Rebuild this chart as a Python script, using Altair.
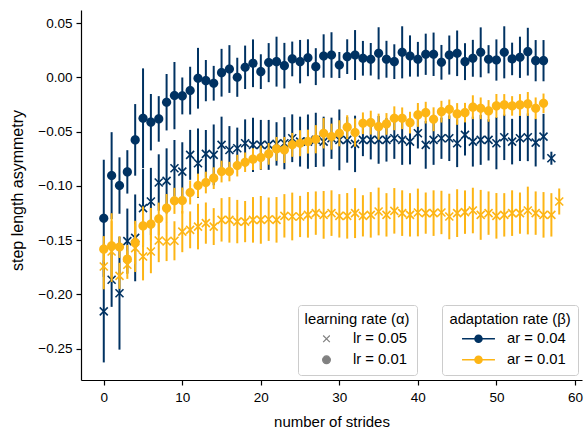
import altair as alt
import pandas as pd

NAVY = "#003262"
GOLD = "#FDB515"
FONT = "Liberation Sans"

# ---- data ----
# adaptation rate 0.04, learning rate 0.05  (navy crosses)
a04_l05_mean = [-0.2158, -0.1866, -0.1990, -0.1510, -0.1480, -0.1206, -0.1145, -0.0970, -0.0955, -0.0838,
                -0.0869, -0.0715, -0.0792, -0.0706, -0.0715, -0.0623, -0.0670, -0.0654, -0.0608, -0.0623,
                -0.0623, -0.0623, -0.0614, -0.0608, -0.0562, -0.0593, -0.0593, -0.0577, -0.0593, -0.0562,
                -0.0577, -0.0577, -0.0614, -0.0577, -0.0577, -0.0577, -0.0577, -0.0562, -0.0577, -0.0593,
                -0.0516, -0.0623, -0.0577, -0.0562, -0.0562, -0.0608, -0.0531, -0.0593, -0.0577, -0.0577,
                -0.0608, -0.0553, -0.0593, -0.0562, -0.0553, -0.0602, -0.0547, -0.0746]
a04_l05_err = [0.047, 0.025, 0.052, 0.030, 0.040, 0.036, 0.031, 0.026, 0.030, 0.026,
               0.027, 0.023, 0.032, 0.022, 0.028, 0.026, 0.022, 0.019, 0.022, 0.025,
               0.023, 0.023, 0.020, 0.024, 0.022, 0.023, 0.025, 0.025, 0.023, 0.019,
               0.028, 0.021, 0.026, 0.015, 0.018, 0.022, 0.020, 0.019, 0.023, 0.021,
               0.014, 0.022, 0.023, 0.019, 0.021, 0.022, 0.019, 0.023, 0.023, 0.019,
               0.024, 0.021, 0.021, 0.021, 0.022, 0.022, 0.021, 0.006]

# adaptation rate 0.04, learning rate 0.01  (navy circles)
a04_l01_mean = [-0.1300, -0.0906, -0.0998, -0.0872, -0.0577, -0.0378, -0.0414, -0.0384, -0.0230, -0.0169,
                -0.0172, -0.0123, -0.0009, -0.0031, -0.0055, 0.0042, 0.0076, 0.0000, 0.0092, 0.0129,
                0.0052, 0.0135, 0.0144, 0.0107, 0.0169, 0.0144, 0.0180, 0.0098, 0.0196, 0.0205,
                0.0113, 0.0190, 0.0205, 0.0175, 0.0166, 0.0221, 0.0166, 0.0144, 0.0230, 0.0196,
                0.0166, 0.0212, 0.0212, 0.0138, 0.0205, 0.0221, 0.0144, 0.0175, 0.0230, 0.0166,
                0.0159, 0.0230, 0.0169, 0.0184, 0.0236, 0.0153, 0.0153]
a04_l01_err = [0.054, 0.040, 0.026, 0.020, 0.033, 0.046, 0.026, 0.021, 0.026, 0.031,
               0.017, 0.022, 0.028, 0.019, 0.016, 0.022, 0.022, 0.018, 0.020, 0.022,
               0.016, 0.018, 0.023, 0.021, 0.016, 0.020, 0.017, 0.017, 0.020, 0.021,
               0.012, 0.016, 0.023, 0.016, 0.015, 0.024, 0.017, 0.016, 0.024, 0.019,
               0.016, 0.019, 0.020, 0.016, 0.018, 0.021, 0.017, 0.017, 0.023, 0.013,
               0.019, 0.024, 0.015, 0.019, 0.022, 0.019, 0.019]

# adaptation rate 0.01, learning rate 0.05  (gold crosses)
a01_l05_mean = [-0.1744, -0.1606, -0.1830, -0.1728, -0.1575, -0.1652, -0.1606, -0.1504, -0.1514, -0.1507,
                -0.1422, -0.1406, -0.1376, -0.1344, -0.1376, -0.1314, -0.1314, -0.1330, -0.1330, -0.1314,
                -0.1314, -0.1308, -0.1314, -0.1277, -0.1283, -0.1283, -0.1268, -0.1252, -0.1268, -0.1252,
                -0.1277, -0.1277, -0.1252, -0.1277, -0.1268, -0.1237, -0.1268, -0.1231, -0.1252, -0.1268,
                -0.1246, -0.1252, -0.1252, -0.1246, -0.1283, -0.1252, -0.1243, -0.1228, -0.1268, -0.1252,
                -0.1277, -0.1268, -0.1252, -0.1252, -0.1228, -0.1252, -0.1268, -0.1268, -0.1145]
a01_l05_err = [0.021, 0.028, 0.012, 0.013, 0.022, 0.022, 0.020, 0.020, 0.018, 0.018,
               0.019, 0.017, 0.021, 0.019, 0.017, 0.020, 0.021, 0.020, 0.019, 0.021,
               0.022, 0.020, 0.021, 0.020, 0.022, 0.019, 0.021, 0.020, 0.022, 0.021,
               0.020, 0.021, 0.023, 0.019, 0.021, 0.022, 0.020, 0.021, 0.021, 0.020,
               0.022, 0.019, 0.021, 0.020, 0.021, 0.022, 0.020, 0.021, 0.023, 0.020,
               0.021, 0.020, 0.021, 0.019, 0.022, 0.020, 0.021, 0.020, 0.012]

# adaptation rate 0.01, learning rate 0.01  (gold circles)
a01_l01_mean = [-0.1584, -0.1553, -0.1565, -0.1676, -0.1523, -0.1370, -0.1354, -0.1305, -0.1206, -0.1139,
                -0.1136, -0.1062, -0.0998, -0.0970, -0.0930, -0.0869, -0.0869, -0.0814, -0.0783, -0.0755,
                -0.0740, -0.0706, -0.0660, -0.0670, -0.0623, -0.0608, -0.0593, -0.0571, -0.0516, -0.0547,
                -0.0516, -0.0460, -0.0510, -0.0424, -0.0418, -0.0455, -0.0430, -0.0378, -0.0378, -0.0418,
                -0.0347, -0.0326, -0.0387, -0.0317, -0.0295, -0.0338, -0.0326, -0.0276, -0.0286, -0.0310,
                -0.0264, -0.0255, -0.0264, -0.0255, -0.0246, -0.0286, -0.0240]
a01_l01_err = [0.012, 0.030, 0.010, 0.013, 0.020, 0.018, 0.015, 0.015, 0.013, 0.012,
               0.012, 0.011, 0.011, 0.010, 0.010, 0.010, 0.009, 0.010, 0.009, 0.010,
               0.011, 0.010, 0.011, 0.012, 0.011, 0.012, 0.011, 0.013, 0.014, 0.012,
               0.012, 0.011, 0.013, 0.010, 0.011, 0.012, 0.010, 0.011, 0.010, 0.010,
               0.011, 0.010, 0.011, 0.010, 0.009, 0.010, 0.009, 0.011, 0.010, 0.010,
               0.011, 0.010, 0.009, 0.010, 0.011, 0.010, 0.009]

ar_labels = ["ar = 0.04", "ar = 0.01"]
lr_labels = ["lr = 0.05", "lr = 0.01"]
x_ticks = [0, 10, 20, 30, 40, 50, 60]
y_ticks = [-0.25, -0.20, -0.15, -0.10, -0.05, 0.00, 0.05]
colors = {"ar = 0.04": NAVY, "ar = 0.01": GOLD}

# drawing order: navy first, then gold
series = [
    ("ar = 0.04", "lr = 0.05", a04_l05_mean, a04_l05_err),
    ("ar = 0.04", "lr = 0.01", a04_l01_mean, a04_l01_err),
    ("ar = 0.01", "lr = 0.05", a01_l05_mean, a01_l05_err),
    ("ar = 0.01", "lr = 0.01", a01_l01_mean, a01_l01_err),
]

# symbol paths (unit square [-1, 1] maps to sqrt(size) pixels)
CROSS = "M-0.18,-0.18L0.18,0.18M-0.18,0.18L0.18,-0.18"
CIRCLE = "M0.21,0A0.21,0.21,0,1,1,-0.21,0A0.21,0.21,0,1,1,0.21,0Z"
LINE_DOT = ("M-0.7,-0.032L0.7,-0.032L0.7,0.032L-0.7,0.032Z"
            "M0.183,0A0.183,0.183,0,1,1,-0.183,0A0.183,0.183,0,1,1,0.183,0Z")

x_scale = alt.Scale(domain=[-2.9, 60.9], nice=False, zero=False)
y_scale = alt.Scale(domain=[-0.279, 0.062], nice=False, zero=False)

x_axis = alt.Axis(title="number of strides", values=x_ticks, format="d",
                  labelPadding=5.5, titleY=46, titleBaseline="alphabetic",
                  titleFontSize=15)
y_axis = alt.Axis(title="step length asymmetry", values=y_ticks, format=".2f",
                  labelPadding=4, titleX=-64, titleY=180, titleAngle=-90,
                  titleAlign="center", titleBaseline="middle", titleFontSize=16)

fill_legend = alt.Legend(
    title="adaptation rate (β)", orient="none", legendX=361, legendY=295,
    direction="vertical", padding=7, strokeColor="#cccccc", fillColor="white",
    cornerRadius=3, titleAnchor="middle", symbolType=LINE_DOT, symbolSize=2209,
    symbolStrokeWidth=0, clipHeight=16, rowPadding=5, labelOffset=5, titlePadding=4,
)
shape_legend = alt.Legend(
    title="learning rate (α)", orient="none", legendX=217, legendY=295,
    direction="vertical", padding=7, strokeColor="#cccccc", fillColor="white",
    cornerRadius=3, titleAnchor="middle", symbolSize=1369,
    symbolFillColor="#808080", symbolStrokeColor="#808080", symbolStrokeWidth=1.2,
    clipHeight=16, rowPadding=5, labelOffset=7, titlePadding=4,
)

fill_scale = alt.Scale(domain=ar_labels, range=[NAVY, GOLD])
shape_scale = alt.Scale(domain=lr_labels, range=[CROSS, CIRCLE])

layers = []
for ar, lr, mean, err in series:
    col = colors[ar]
    df = pd.DataFrame({
        "stride": list(range(len(mean))),
        "mean": mean,
        "lo": [m - e for m, e in zip(mean, err)],
        "hi": [m + e for m, e in zip(mean, err)],
        "ar": ar,
        "lr": lr,
    })
    rules = alt.Chart(df).mark_rule(strokeWidth=2, color=col).encode(
        x=alt.X("stride:Q", scale=x_scale, axis=x_axis),
        y=alt.Y("lo:Q", scale=y_scale, axis=y_axis),
        y2="hi:Q",
    )
    is_cross = lr == "lr = 0.05"
    pts = alt.Chart(df).mark_point(
        opacity=1,
        stroke=col,
        size=1975 if is_cross else 1920,
        strokeWidth=1.6 if is_cross else 0,
    ).encode(
        x=alt.X("stride:Q", scale=x_scale, axis=x_axis),
        y=alt.Y("mean:Q", scale=y_scale, axis=y_axis),
        fill=alt.Fill("ar:N", scale=fill_scale, legend=fill_legend),
        shape=alt.Shape("lr:N", scale=shape_scale, legend=shape_legend),
    )
    layers += [rules, pts]

chart = alt.layer(*layers).properties(
    width=501, height=370,
    autosize=alt.AutoSizeParams(type="none"),
    padding={"left": 81, "top": 10, "right": 2, "bottom": 48},
).configure(
    font=FONT, background="white"
).configure_view(
    stroke=None
).configure_axis(
    grid=False, domainColor="black", domainWidth=1.2, tickColor="black", tickWidth=1.2,
    tickSize=5, labelFont=FONT, labelFontSize=13.5, labelColor="black",
    titleFont=FONT, titleFontSize=15, titleFontWeight="normal", titleColor="black",
).configure_legend(
    titleFont=FONT, titleFontSize=14.8, titleFontWeight="normal", titleColor="black",
    labelFont=FONT, labelFontSize=14.8, labelColor="black",
)

chart.save("out.html", embed_options={"renderer": "svg", "actions": False})
